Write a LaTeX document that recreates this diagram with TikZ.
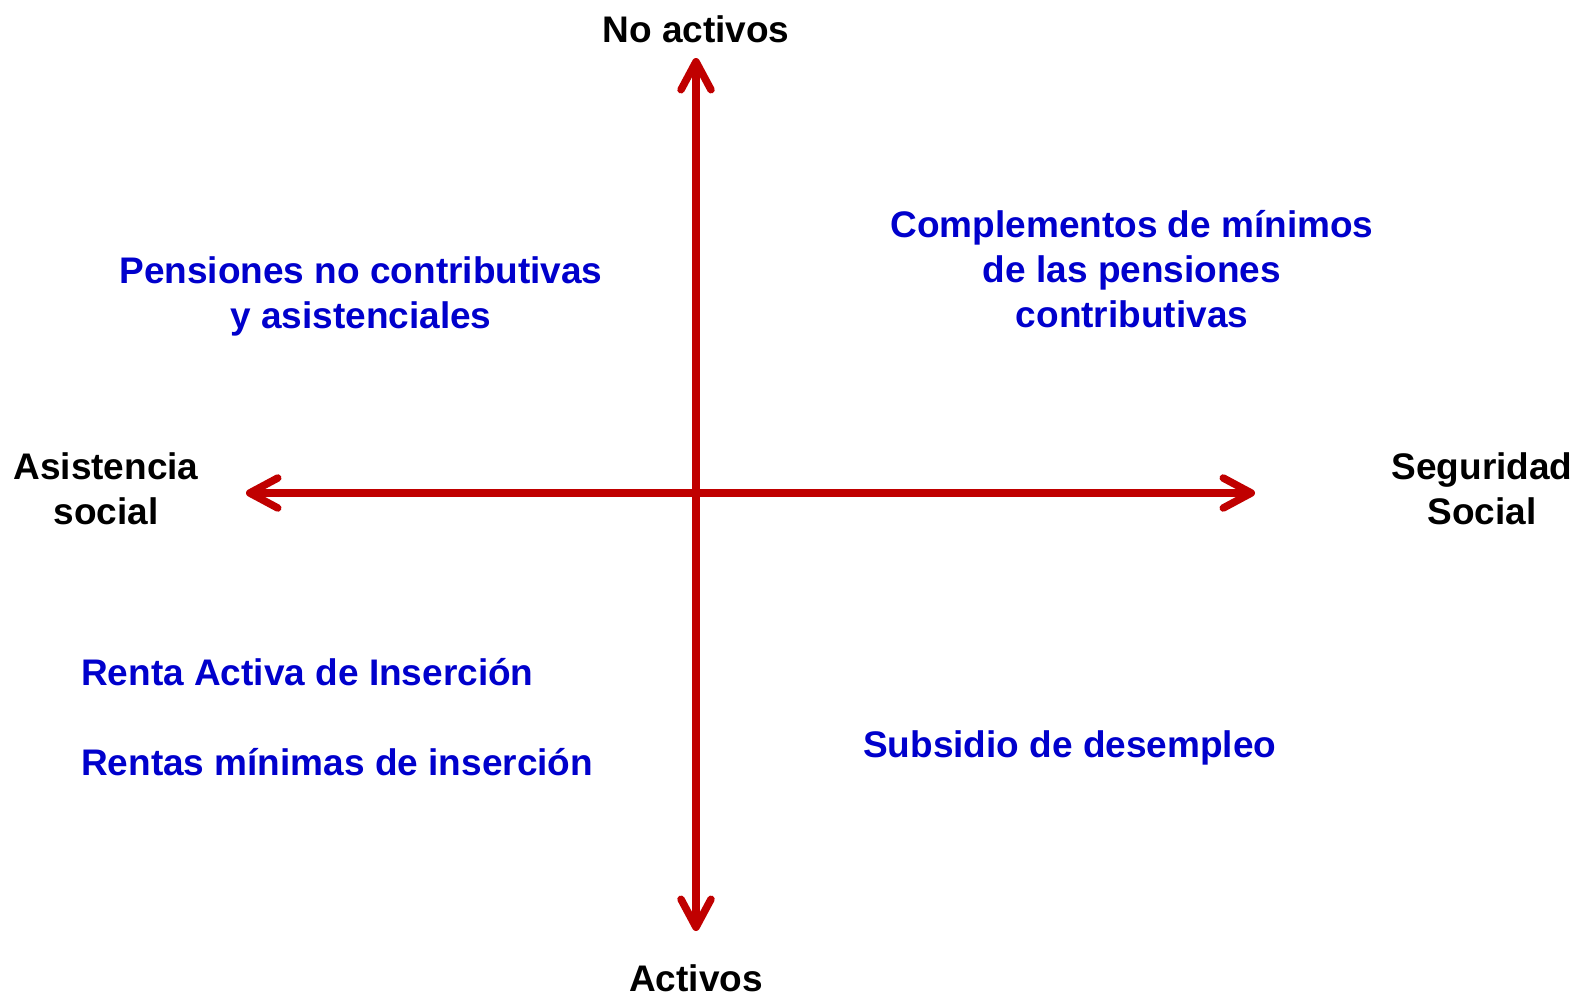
\documentclass[tikz,border=0pt]{standalone}
\usepackage{fontspec}
\setmainfont{Liberation Sans}
\usetikzlibrary{arrows.meta}
\definecolor{axisred}{HTML}{C00000}
\definecolor{itemblue}{HTML}{0000CC}
\begin{document}
\begin{tikzpicture}[x=1pt,y=-1pt,
  axis/.style={draw=axisred,line width=7.5pt,line cap=round,
    {Straight Barb[length=28pt,width=30pt,round]}-{Straight Barb[length=28pt,width=30pt,round]}},
  lbl/.style={font=\fontsize{37}{45}\selectfont\bfseries,inner sep=0pt,align=center},
  item/.style={lbl,text=itemblue}]
\useasboundingbox (0,0) rectangle (1575,996);
\coordinate (top) at (696,58);
\coordinate (bot) at (696,931);
\coordinate (lft) at (246,493);
\coordinate (rgt) at (1255,493);
\draw[axis] (top) -- (bot);
\draw[axis] (lft) -- (rgt);
\node[lbl,anchor=base] (noact) at (696,42) {No activos};
\node[lbl,anchor=base] (act) at (696,991) {Activos};
\node[lbl,anchor=north] (asis) at (106,452) {Asistencia\\social};
\node[lbl,anchor=north] (segu) at (1482,452) {Seguridad\\Social};
\node[item,anchor=north] (pnc) at (361,256) {Pensiones no contributivas\\y asistenciales};
\node[item,anchor=north] (cmp) at (1132,210) {Complementos de mínimos\\de las pensiones\\contributivas};
\node[item,anchor=base west] (rai) at (81,685) {Renta Activa de Inserción};
\node[item,anchor=base west] (rmi) at (81,775) {Rentas mínimas de inserción};
\node[item,anchor=base west] (sub) at (863,757) {Subsidio de desempleo};
\end{tikzpicture}
\end{document}
